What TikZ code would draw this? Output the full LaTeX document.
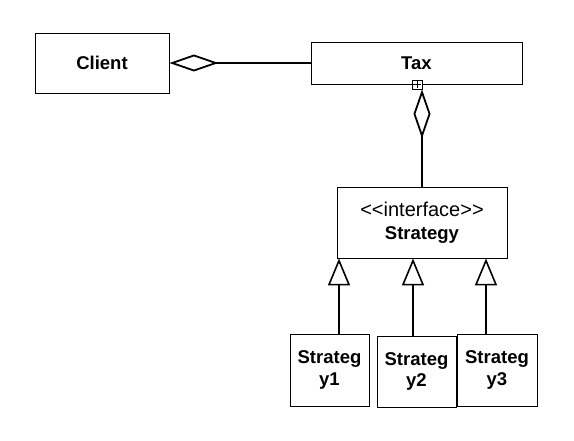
\documentclass[tikz,border=0pt]{standalone}
\usepackage{fontspec}
\setmainfont{Liberation Sans}
\usetikzlibrary{arrows.meta}
\begin{document}
\begin{tikzpicture}[x=1pt,y=-1pt,
  cls/.style={draw=black, line width=0.9pt, inner sep=0pt, align=center,
    font=\fontsize{18.5}{21.5}\selectfont\bfseries},
  conn/.style={line width=2pt, line cap=butt},
  agg/.style={conn, -{Diamond[open, length=49pt, width=17pt, line width=1.8pt]}},
  gen/.style={conn, -{Triangle[open, length=27pt, width=22pt, line width=1.6pt]}}]
\useasboundingbox (0,0) rectangle (574,441);
\fill[white] (0,0) rectangle (574,441);
\node[cls, minimum width=134pt, minimum height=60pt] (client) at (102,63) {Client};
\node[cls, minimum width=211pt, minimum height=42pt] (tax) at (416.5,63) {Tax};
\node[cls, minimum width=170pt, minimum height=71pt] (strategy) at (422,222.5)
  {{\fontsize{20}{22}\selectfont\mdseries <{}<interface>{}>}\\[1pt]Strategy};
\node[cls, minimum width=79pt, minimum height=72pt] (s1) at (329.5,370) {Strateg\\y1};
\node[cls, minimum width=79pt, minimum height=71pt] (s2) at (416.5,371.5) {Strateg\\y2};
\node[cls, minimum width=80pt, minimum height=72pt] (s3) at (497,370) {Strateg\\y3};
\node[draw=black, line width=0.8pt, fill=white, inner sep=0pt, minimum width=10pt, minimum height=9pt] (plus) at (417,84.5) {};
\draw[line width=0.8pt] ([yshift=-1.5pt]plus.north) -- ([yshift=1.5pt]plus.south)
  ([xshift=1.5pt]plus.west) -- ([xshift=-1.5pt]plus.east);
\draw[agg] (tax.west) -- (client.east);
\draw[agg] (strategy.north) -- (strategy.north |- plus.south);
\draw[gen] ([xshift=9.5pt]s1.north) -- ([xshift=9.5pt]s1.north |- strategy.south);
\draw[gen] ([xshift=-3.5pt]s2.north) -- ([xshift=-3.5pt]s2.north |- strategy.south);
\draw[gen] ([xshift=-11pt]s3.north) -- ([xshift=-11pt]s3.north |- strategy.south);
\end{tikzpicture}
\end{document}
